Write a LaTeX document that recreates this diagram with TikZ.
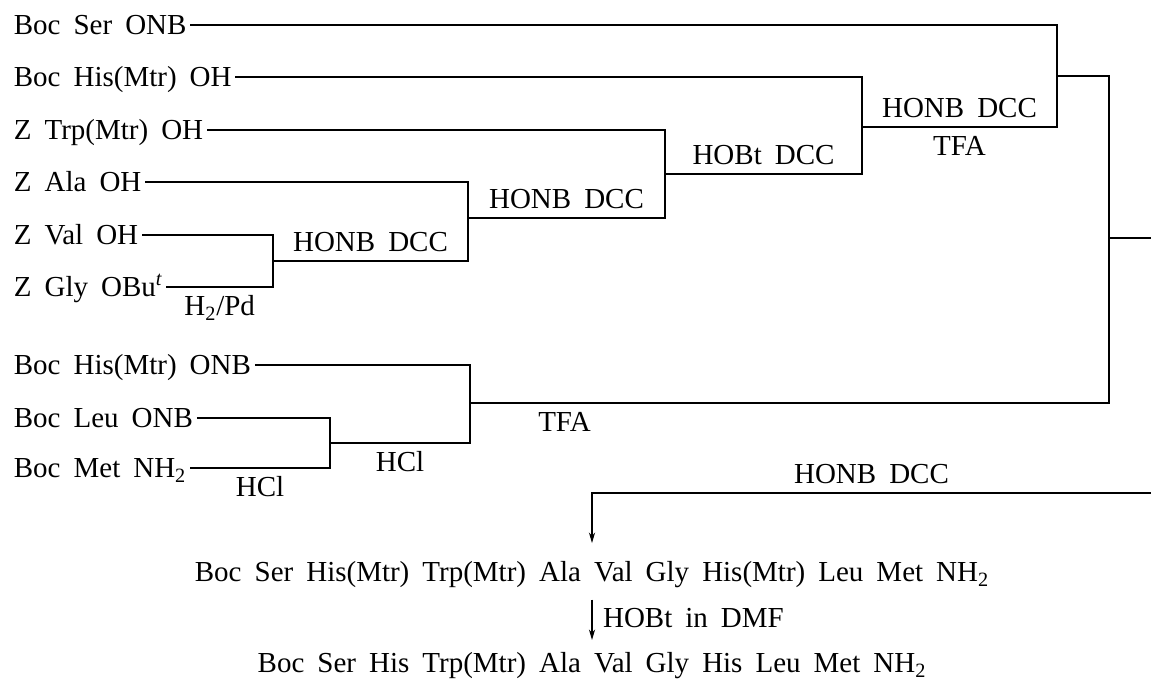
\documentclass[tikz,border=0pt]{standalone}
\usepackage{fontspec}
\setmainfont{Liberation Serif}[WordSpace=1.8]
\usetikzlibrary{arrows.meta}

\begin{document}
\begin{tikzpicture}[
  x=0.02cm, y=-0.02cm,
  every node/.style={font=\fontsize{16.5}{20}\selectfont},
  res/.style={anchor=west, inner xsep=2pt, inner ysep=0pt, text height=11pt, text depth=0pt},
  cond/.style={inner xsep=0pt, inner ysep=5pt, text height=11pt, text depth=0pt},
  prod/.style={inner sep=0pt, text height=11pt, text depth=0pt},
  link/.style={line width=0.6pt},
  arrow/.style={-{Stealth[length=6pt,width=3.5pt]}, line width=0.6pt}
]
\useasboundingbox (0,0) rectangle (1151,686);

% Starting residues
\node[res] (ser) at (10,25) {Boc Ser ONB};
\node[res] (hisoh) at (10,77) {Boc His(Mtr) OH};
\node[res] (trp) at (10,130) {Z Trp(Mtr) OH};
\node[res] (ala) at (10,182) {Z Ala OH};
\node[res] (val) at (10,235) {Z Val OH};
\node[res] (gly) at (10,287) {Z Gly OBu\textsuperscript{\itshape t}};
\node[res] (hisonb) at (10,365) {Boc His(Mtr) ONB};
\node[res] (leu) at (10,418) {Boc Leu ONB};
\node[res] (met) at (10,468) {Boc Met NH\textsubscript{2}};

% Coupling points
\coordinate (j1) at (273,261);
\coordinate (j2) at (468,218);
\coordinate (j3) at (665,174);
\coordinate (j4) at (862,127);
\coordinate (j5) at (1057,76);
\coordinate (j6) at (1109,238);
\coordinate (j7) at (330,443);
\coordinate (j8) at (470,403);
\coordinate (exit) at (1151,238);
\coordinate (feed) at (1151,493);

% Products
\node[prod] (p1) at (592,572) {Boc Ser His(Mtr) Trp(Mtr) Ala Val Gly His(Mtr) Leu Met NH\textsubscript{2}};
\node[prod] (p2) at (592,663) {Boc Ser His Trp(Mtr) Ala Val Gly His Leu Met NH\textsubscript{2}};

% Upper fragment
\draw[link] (val.east) -| (j1) |- node[cond, below, pos=0.75] {H\textsubscript{2}/Pd} (gly.east);
\draw[link] (ala.east) -| (j2) |- node[cond, above, pos=0.75] {HONB DCC} (j1);
\draw[link] (trp.east) -| (j3) |- node[cond, above, pos=0.75] {HONB DCC} (j2);
\draw[link] (hisoh.east) -| (j4) |- node[cond, above, pos=0.75] {HOBt DCC} (j3);
\draw[link] (ser.east) -| (j5) |- node[cond, above, pos=0.75] {HONB DCC}
  node[cond, below, pos=0.75] {TFA} (j4);

% Lower fragment
\draw[link] (leu.east) -| (j7) |- node[cond, below, pos=0.75] {HCl} (met.east);
\draw[link] (hisonb.east) -| (j8) |- node[cond, below, pos=0.75] {HCl} (j7);

% Fragments joined
\draw[link] (j5) -| (j6) |- node[cond, below, pos=0.926] {TFA} (j8);
\draw[link] (j6) -- (exit);
\draw[arrow, shorten >=10.8pt] (feed) -| node[cond, above, pos=0.25] {HONB DCC} (p1.north);
\draw[arrow, shorten <=10pt, shorten >=7.4pt] (p1) -- node[cond, right, inner xsep=6pt] {HOBt in DMF} (p2);

\end{tikzpicture}
\end{document}
